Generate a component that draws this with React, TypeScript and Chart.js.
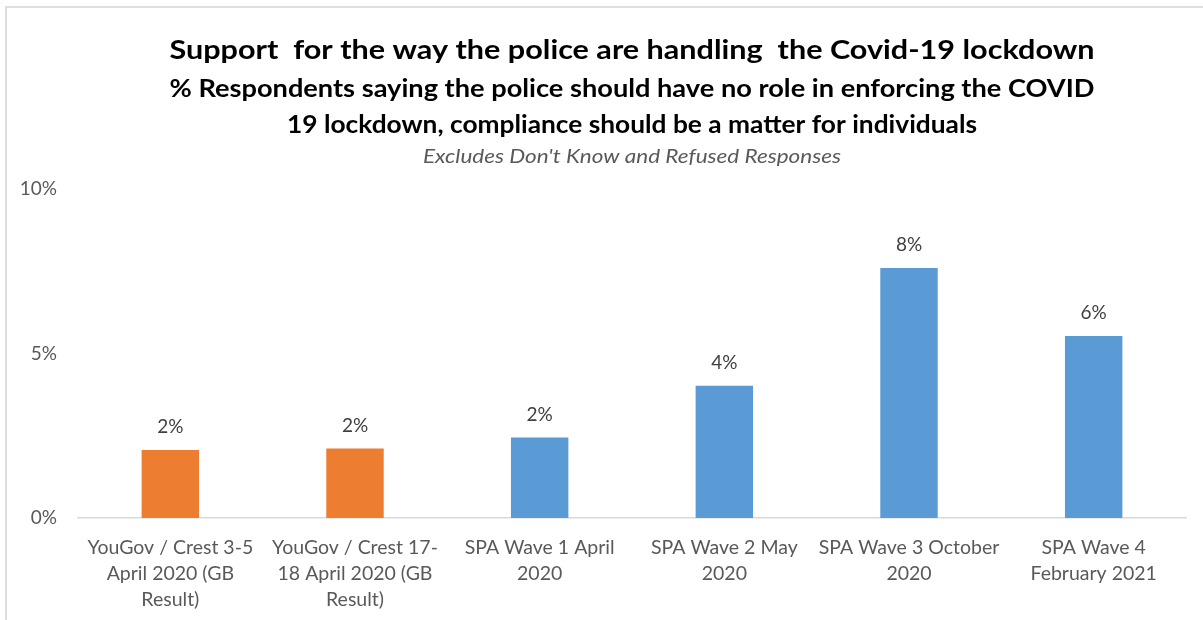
import React, { useEffect, useRef } from "react";
import { Chart, registerables } from "chart.js";

Chart.register(...registerables);

const titleLine = "Support  for the way the police are handling  the Covid-19 lockdown";
const subtitleLines = [
  "% Respondents saying the police should have no role in enforcing the COVID",
  "19 lockdown, compliance should be a matter for individuals",
];
const noteLine = "Excludes Don't Know and Refused Responses";

const categories: string[][] = [
  ["YouGov / Crest 3-5", "April 2020 (GB", "Result)"],
  ["YouGov / Crest 17-", "18 April 2020 (GB", "Result)"],
  ["SPA Wave 1 April", "2020"],
  ["SPA Wave 2 May", "2020"],
  ["SPA Wave 3 October", "2020"],
  ["SPA Wave 4", "February 2021"],
];
const sources = ["YouGov", "YouGov", "SPA", "SPA", "SPA", "SPA"];
const values = [2.07, 2.11, 2.45, 4.02, 7.6, 5.53];
const yTicks = [0, 5, 10];

const FONT = 'Lato, "Noto Sans", sans-serif';
const sourceColors: Record<string, string> = { YouGov: "#ED7D31", SPA: "#5B9BD5" };

function fitText(ctx: any, text: string, x: number, y: number, width: number) {
  const w = ctx.measureText(text).width;
  if (w > 0 && Math.abs(w - width) > 1) {
    ctx.save();
    ctx.translate(x, y);
    ctx.scale(width / w, 1);
    ctx.fillText(text, 0, 0);
    ctx.restore();
  } else {
    ctx.fillText(text, x, y);
  }
}

const headingsPlugin = {
  id: "headings",
  afterDraw(chart: any) {
    const { ctx, chartArea } = chart;
    const cx = (chartArea.left + chartArea.right) / 2;
    ctx.save();
    ctx.textAlign = "center";
    ctx.textBaseline = "middle";
    ctx.fillStyle = "#000000";
    ctx.font = `bold 27px ${FONT}`;
    fitText(ctx, titleLine, cx, 50, 925);
    ctx.font = `bold 24px ${FONT}`;
    fitText(ctx, subtitleLines[0], cx, 89, 925);
    fitText(ctx, subtitleLines[1], cx, 125, 690);
    ctx.fillStyle = "#595959";
    ctx.font = `italic 19px ${FONT}`;
    fitText(ctx, noteLine, cx, 157, 418);
    ctx.restore();
  },
};

const valueLabelPlugin = {
  id: "valueLabels",
  afterDatasetsDraw(chart: any) {
    const { ctx } = chart;
    const meta = chart.getDatasetMeta(0);
    ctx.save();
    ctx.textAlign = "center";
    ctx.textBaseline = "middle";
    ctx.fillStyle = "#404040";
    ctx.font = `19px ${FONT}`;
    meta.data.forEach((bar: any, i: number) => {
      ctx.fillText(Math.round(values[i]) + "%", bar.x, bar.y - 23);
    });
    ctx.restore();
  },
};

export default function App() {
  const canvasRef = useRef<HTMLCanvasElement | null>(null);

  useEffect(() => {
    if (!canvasRef.current) return;
    const chart = new Chart(canvasRef.current, {
      type: "bar",
      data: {
        labels: categories,
        datasets: [
          {
            data: values,
            backgroundColor: sources.map((s) => sourceColors[s]),
            barPercentage: 0.311,
            categoryPercentage: 1,
          },
        ],
      },
      options: {
        responsive: false,
        animation: false,
        layout: { padding: { top: 189, right: 17, left: 0, bottom: 0 } },
        plugins: {
          legend: { display: false },
          tooltip: { enabled: false },
          title: { display: false },
        },
        scales: {
          x: {
            grid: { display: false, drawTicks: false },
            border: { display: true, color: "#d9d9d9", width: 1.5 },
            ticks: {
              color: "#595959",
              font: { family: FONT, size: 19.5, lineHeight: 1.33 },
              padding: 17,
              maxRotation: 0,
              autoSkip: false,
            },
            afterFit(scale: any) {
              scale.height = 102;
            },
          },
          y: {
            min: 0,
            max: 10,
            afterBuildTicks(scale: any) {
              scale.ticks = yTicks.map((v) => ({ value: v }));
            },
            grid: { display: false, drawTicks: false },
            border: { display: false },
            ticks: {
              color: "#595959",
              font: { family: FONT, size: 19 },
              padding: 21,
              callback: (v: any) => v + "%",
            },
            afterFit(scale: any) {
              scale.width = 78;
            },
          },
        },
      },
      plugins: [headingsPlugin, valueLabelPlugin],
    });
    return () => chart.destroy();
  }, []);

  return (
    <div
      style={{
        position: "fixed",
        left: 0,
        top: 0,
        width: 1203,
        height: 620,
        background: "#ffffff",
        overflow: "hidden",
      }}
    >
      <div
        style={{
          position: "absolute",
          left: 5,
          top: 6,
          width: 1300,
          height: 700,
          borderTop: "2px solid #dedede",
          borderLeft: "2px solid #dedede",
        }}
      />
      <canvas
        ref={canvasRef}
        width={1203}
        height={620}
        style={{ position: "absolute", left: 0, top: 0, display: "block" }}
      />
    </div>
  );
}
